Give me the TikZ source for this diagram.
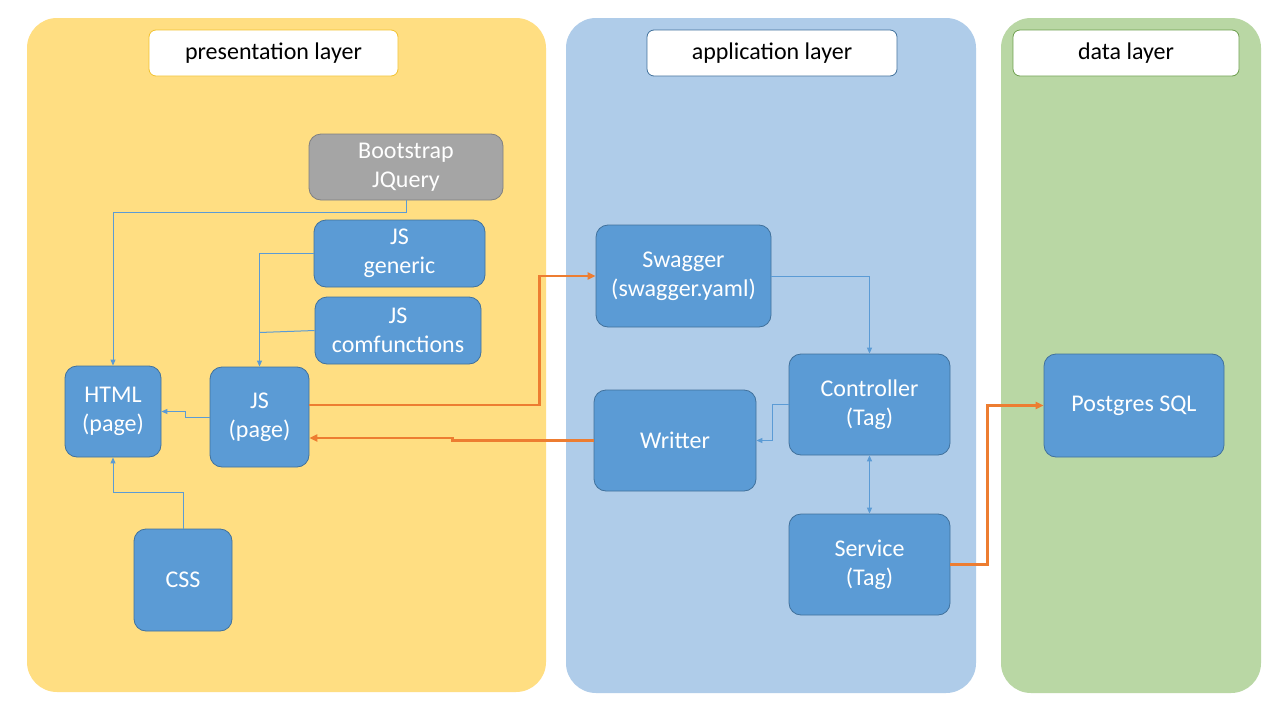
\documentclass[tikz,border=0pt]{standalone}
\usepackage{fontspec}
\setmainfont{Carlito}
\usetikzlibrary{arrows.meta,calc}
\definecolor{ylw}{HTML}{FFDE82}
\definecolor{lblue}{HTML}{AFCCE9}
\definecolor{lgreen}{HTML}{B9D7A4}
\definecolor{nblue}{HTML}{5B9BD5}
\definecolor{bblue}{HTML}{41719C}
\definecolor{ngray}{HTML}{A5A5A5}
\definecolor{bgray}{HTML}{808080}
\definecolor{orng}{HTML}{ED7D31}
\definecolor{gold}{HTML}{F2C230}
\definecolor{dgreen}{HTML}{6E9F4E}
\tikzset{
  box/.style={draw=bblue, fill=nblue, line width=0.8pt, rounded corners=12pt, text=white, align=center, inner sep=0pt, font=\fontsize{24}{29}\selectfont},
  graybox/.style={box, draw=bgray, fill=ngray},
  header/.style={draw, fill=white, line width=0.8pt, rounded corners=7pt, inner sep=0pt, minimum height=46pt, font=\fontsize{24}{29}\selectfont, text=black},
  panel/.style={rounded corners=30pt},
  link/.style={draw=nblue, line width=1pt, -{Triangle[length=6pt,width=5pt]}},
  olink/.style={draw=orng, line width=2.6pt, -{Triangle[length=8pt,width=7pt]}},
}
\begin{document}
\begin{tikzpicture}[x=1pt,y=-1pt]
\useasboundingbox (0,0) rectangle (1280,720);
\fill[white] (0,0) rectangle (1280,720);
% panels
\fill[ylw, panel] (27,18) rectangle (546,692);
\fill[lblue, panel] (566,18) rectangle (976,693);
\fill[lgreen, panel] (1001,18) rectangle (1261,693);
% headers
\node[header, draw=gold, minimum width=249pt] (hp) at (273.5,53) {presentation layer};
\node[header, draw=bblue, minimum width=250pt] (ha) at (772,53) {application layer};
\node[header, draw=dgreen, minimum width=226pt] (hd) at (1126,53) {data layer};
% nodes
\node[graybox, minimum width=194pt, minimum height=66pt] (boot) at (406,167) {Bootstrap\\JQuery};
\node[box, minimum width=171pt, minimum height=67pt] (jsg) at (399.5,253.5) {JS\\generic};
\node[box, minimum width=166pt, minimum height=67pt] (jsc) at (398,330.5) {JS\\comfunctions};
\node[box, minimum width=96pt, minimum height=91pt] (html) at (113,411.5) {HTML\\(page)};
\node[box, minimum width=99pt, minimum height=100pt] (jsp) at (259.5,417) {JS\\(page)};
\node[box, minimum width=98pt, minimum height=102pt] (css) at (183,580) {CSS};
\node[box, minimum width=175pt, minimum height=102pt] (sw) at (683.5,276) {Swagger\\(swagger.yaml)};
\node[box, minimum width=161pt, minimum height=101pt] (ctrl) at (869.5,404.5) {Controller\\(Tag)};
\node[box, minimum width=162pt, minimum height=101pt] (wr) at (675,440.5) {Writter};
\node[box, minimum width=161pt, minimum height=101pt] (svc) at (869.5,564.5) {Service\\(Tag)};
\node[box, minimum width=180pt, minimum height=103pt] (pg) at (1134,405.5) {Postgres SQL};
% thin connectors
\draw[link] (boot.south) -- ++(0,12) -| (html.north);
\draw[link] (jsg.west) -| (jsp.north);
\draw[draw=nblue, line width=1pt] (jsc.west) -- ($(jsc.west -| jsp.north)+(0,2)$);
\draw[link] (jsp.west) -- ++(-24,0) |- (html.east);
\draw[link] (css.north) -- ++(0,-36) -| (html.south);
\draw[link] (sw.east) -| (ctrl.north);
\draw[link] (ctrl.west) -- ++(-16,0) |- (wr.east);
\draw[link, {Triangle[length=6pt,width=5pt]}-{Triangle[length=6pt,width=5pt]}] (ctrl.south) -- (svc.north);
% orange connectors
\draw[olink] ([yshift=12pt]jsp.east) -- ++(230,0) |- (sw.west);
\draw[olink] (wr.west) -- ++(-141,0) |- ([yshift=-21pt]jsp.east);
\draw[olink] (svc.east) -- ++(37,0) |- (pg.west);
\end{tikzpicture}
\end{document}
